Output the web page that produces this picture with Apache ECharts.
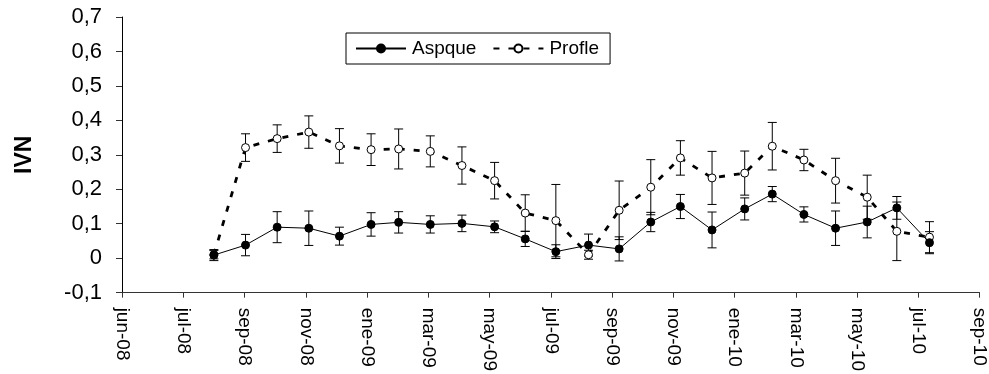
<!DOCTYPE html>
<html>
<head>
<meta charset="utf-8">
<script src="https://cdn.jsdelivr.net/npm/echarts@6/dist/echarts.min.js"></script>
<style>
  html, body { margin: 0; padding: 0; background: #fff; }
  #chart { width: 989px; height: 374px; }
</style>
</head>
<body>
<div id="chart"></div>
<script>
// Axis: ticks every 60 days starting 1 June 2008
const axisStart = '2008-06-01';
const tickStepDays = 60;
const tickLabels = ['jun-08', 'jul-08', 'sep-08', 'nov-08', 'ene-09', 'mar-09', 'may-09',
  'jul-09', 'sep-09', 'nov-09', 'ene-10', 'mar-10', 'may-10', 'jul-10', 'sep-10'];

// Sampling dates
const sampleDates = ['2008-08-30', '2008-09-30', '2008-10-31', '2008-12-01', '2008-12-31',
  '2009-01-31', '2009-02-27', '2009-03-30', '2009-04-30', '2009-06-01', '2009-07-01',
  '2009-07-31', '2009-09-01', '2009-10-01', '2009-11-01', '2009-11-30', '2009-12-31',
  '2010-02-01', '2010-02-28', '2010-03-31', '2010-05-01', '2010-06-01', '2010-06-30',
  '2010-08-01'];

// IVN means and error half-widths
const aspque = [0.009, 0.038, 0.090, 0.087, 0.064, 0.098, 0.104, 0.098, 0.101, 0.091, 0.056,
  0.019, 0.038, 0.027, 0.105, 0.150, 0.082, 0.143, 0.186, 0.127, 0.087, 0.105, 0.146, 0.045];
const aspqueErr = [0.016, 0.031, 0.045, 0.050, 0.026, 0.034, 0.031, 0.025, 0.024, 0.017, 0.022,
  0.020, 0.032, 0.035, 0.028, 0.035, 0.052, 0.032, 0.022, 0.022, 0.050, 0.046, 0.033, 0.032];
const profle = [0.010, 0.321, 0.347, 0.366, 0.326, 0.315, 0.317, 0.310, 0.269, 0.225, 0.131,
  0.109, 0.010, 0.139, 0.206, 0.291, 0.233, 0.247, 0.325, 0.285, 0.225, 0.177, 0.078, 0.061];
const profleErr = [0.012, 0.040, 0.040, 0.047, 0.050, 0.046, 0.058, 0.045, 0.054, 0.053, 0.053,
  0.105, 0.013, 0.085, 0.080, 0.050, 0.077, 0.064, 0.069, 0.031, 0.065, 0.064, 0.085, 0.045];

const FONT = "'Liberation Sans', Arial, sans-serif";
const DAY = 86400000;
const startMs = Date.parse(axisStart + 'T00:00:00Z');
const dayOffset = d => Math.round((Date.parse(d + 'T00:00:00Z') - startMs) / DAY);
const xs = sampleDates.map(dayOffset);

const points = vals => vals.map((v, i) => [xs[i], v]);
const errRanges = (vals, errs) => vals.map((v, i) => [xs[i], v - errs[i], v + errs[i]]);

// Vertical error bar with horizontal caps
function renderErrorBar(params, api) {
  const low = api.coord([api.value(0), api.value(1)]);
  const high = api.coord([api.value(0), api.value(2)]);
  const half = 4.5;
  const style = { stroke: '#000', lineWidth: 1 };
  return {
    type: 'group',
    children: [
      { type: 'line', shape: { x1: low[0], y1: low[1], x2: high[0], y2: high[1] }, style },
      { type: 'line', shape: { x1: low[0] - half, y1: low[1], x2: low[0] + half, y2: low[1] }, style },
      { type: 'line', shape: { x1: high[0] - half, y1: high[1], x2: high[0] + half, y2: high[1] }, style }
    ]
  };
}

const chart = echarts.init(document.getElementById('chart'), null, { renderer: 'canvas' });
chart.setOption({
  animation: false,
  backgroundColor: '#fff',
  textStyle: { fontFamily: FONT },
  grid: { left: 122, right: 8, top: 17, bottom: 80, containLabel: false },
  legend: {
    left: 346, top: 33,
    itemWidth: 50, itemHeight: 10, itemGap: 16,
    padding: [6, 11, 6, 9],
    borderColor: '#000', borderWidth: 1,
    textStyle: { fontSize: 19, color: '#000', fontFamily: FONT, padding: [0, 0, 0, 1] },
    data: ['Aspque', 'Profle']
  },
  xAxis: {
    type: 'value',
    min: 0,
    max: tickStepDays * (tickLabels.length - 1),
    interval: tickStepDays,
    splitLine: { show: false },
    axisLine: { onZero: false, lineStyle: { color: '#333', width: 1 } },
    axisTick: { show: true, inside: false, length: 5, lineStyle: { color: '#333' } },
    axisLabel: {
      rotate: -90, margin: 15, fontSize: 19, color: '#000', fontFamily: FONT,
      formatter: v => tickLabels[Math.round(v / tickStepDays)] || ''
    }
  },
  yAxis: {
    type: 'value',
    min: -0.1, max: 0.7, interval: 0.1,
    name: 'IVN',
    nameLocation: 'middle',
    nameRotate: 90,
    nameGap: 86,
    nameTextStyle: { fontSize: 23, fontWeight: 'bold', color: '#000', fontFamily: FONT },
    splitLine: { show: false },
    axisLine: { show: true, lineStyle: { color: '#000', width: 1 } },
    axisTick: { show: true, inside: false, length: 6, lineStyle: { color: '#333' } },
    axisLabel: {
      margin: 20, fontSize: 22, color: '#000', fontFamily: FONT,
      formatter: v => {
        const r = Math.round(v * 10) / 10;
        return r === 0 ? '0' : r.toFixed(1).replace('.', ',');
      }
    }
  },
  series: [
    {
      name: 'ProfleErr', type: 'custom', renderItem: renderErrorBar,
      data: errRanges(profle, profleErr), z: 1, silent: true,
      encode: { x: 0, y: [1, 2] }
    },
    {
      name: 'AspqueErr', type: 'custom', renderItem: renderErrorBar,
      data: errRanges(aspque, aspqueErr), z: 1, silent: true,
      encode: { x: 0, y: [1, 2] }
    },
    {
      name: 'Profle', type: 'line', data: points(profle), z: 2,
      symbol: 'circle', symbolSize: 8, showAllSymbol: true,
      lineStyle: { color: '#000', width: 2.8, type: [6, 9] },
      itemStyle: { color: '#fff', borderColor: '#000', borderWidth: 1 }
    },
    {
      name: 'Aspque', type: 'line', data: points(aspque), z: 3,
      symbol: 'circle', symbolSize: 8, showAllSymbol: true,
      lineStyle: { color: '#000', width: 1 },
      itemStyle: { color: '#000', borderColor: '#000', borderWidth: 1 }
    }
  ]
});
</script>
</body>
</html>
